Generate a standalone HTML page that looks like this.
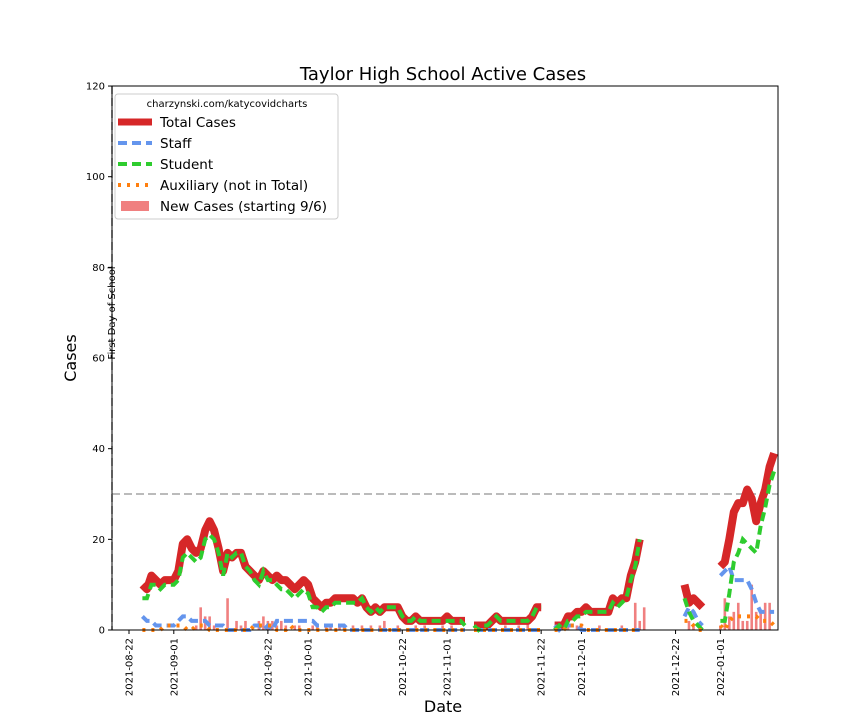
<!DOCTYPE html>
<html><head><meta charset="utf-8"><style>
body{margin:0;background:#fff;font-family:"Liberation Sans","DejaVu Sans",sans-serif}
svg text{font-family:"DejaVu Sans","Liberation Sans",sans-serif}
</style></head><body>
<svg id="chart" width="864" height="720" xmlns="http://www.w3.org/2000/svg">
<rect width="864" height="720" fill="#fff"/>
<text x="443" y="80" font-size="18" text-anchor="middle">Taylor High School Active Cases</text>
<text transform="translate(76,358) rotate(-90)" font-size="16" text-anchor="middle">Cases</text>
<text x="443" y="712" font-size="16" text-anchor="middle">Date</text>
<g id="plot"></g>
<rect x="112" y="86" width="666" height="544" fill="none" stroke="#000" stroke-width="1"/>
<g id="legend">
<rect x="115" y="94" width="223" height="125" rx="3" fill="#fff" fill-opacity="0.85" stroke="#ccc"/>
<text x="227" y="107" font-size="10" text-anchor="middle">charzynski.com/katycovidcharts</text>
<line x1="118" y1="122" x2="152" y2="122" stroke="#d62728" stroke-width="7"/>
<text x="160" y="127" font-size="13.5">Total Cases</text>
<line x1="118" y1="143" x2="152" y2="143" stroke="#6495ed" stroke-width="4" stroke-dasharray="9,5"/>
<text x="160" y="148" font-size="13.5">Staff</text>
<line x1="118" y1="164" x2="152" y2="164" stroke="#2ecc2e" stroke-width="4" stroke-dasharray="9,5"/>
<text x="160" y="169" font-size="13.5">Student</text>
<line x1="118" y1="185" x2="152" y2="185" stroke="#ff7f0e" stroke-width="4" stroke-dasharray="3,6"/>
<text x="160" y="190" font-size="13.5">Auxiliary (not in Total)</text>
<rect x="121" y="201" width="28" height="10" fill="#f08080"/>
<text x="160" y="211" font-size="13.5">New Cases (starting 9/6)</text>
</g>
</svg>
<script>
const tickValues=[0,20,40,60,80,100,120];
const dateLabels=["2021-08-22","2021-09-01","2021-09-22","2021-10-01","2021-10-22","2021-11-01","2021-11-22","2021-12-01","2021-12-22","2022-01-01"];
const dateDays=[0,10,31,40,61,71,92,101,122,132];
// days since 2021-08-22; null = gap
const days=[3,4,5,6,7,8,9,10,11,12,13,14,15,16,17,18,19,20,21,22,23,24,25,26,27,28,29,30,31,32,33,34,35,36,37,38,39,40,41,42,43,44,45,46,47,48,49,50,51,52,53,54,55,56,57,58,59,60,61,62,63,64,65,66,67,68,69,70,71,72,73,74,75,76,77,78,79,80,81,82,83,84,85,86,87,88,89,90,91,92,93,94,95,96,97,98,99,100,101,102,103,104,105,106,107,108,109,110,111,112,113,114,115,116,117,118,119,120,121,122,123,124,125,126,127,128,129,130,131,132,133,134,135,136,137,138,139,140,141,142,143,144];
const totalCases=[10,9,12,11,10,11,11,11,13,19,20,18,17,18,22,24,22,18,13,17,16,17,17,14,13,12,11,13,12,11,12,11,11,10,9,10,11,10,7,6,5,6,6,7,7,7,7,7,6,7,5,4,5,4,5,5,5,5,3,2,2,3,2,2,2,2,2,2,3,2,2,2,2,null,1,1,1,1,2,3,2,2,2,2,2,2,2,3,5,5,null,null,1,1,1,3,3,4,4,5,4,4,4,4,4,7,6,7,7,12,15,20,null,null,null,null,null,null,null,null,null,10,6,7,6,5,null,null,null,14,15,20,26,28,28,31,29,24,28,31,36,39];
const staffCases=[3,2,2,1,1,1,1,1,2,3,3,2,2,2,2,1,1,1,1,0,0,0,0,0,0,1,1,0,1,0,2,2,2,2,2,2,2,2,2,1,1,1,1,1,1,1,0,0,0,0,0,0,0,0,0,0,0,0,0,0,0,0,0,0,0,0,0,0,0,0,0,0,0,null,0,0,0,0,0,0,0,0,0,0,0,0,0,0,0,0,null,null,1,0,1,1,1,1,0,0,0,0,0,0,0,0,0,0,0,0,0,0,null,null,null,null,null,null,null,null,null,3,5,4,2,1,null,null,null,12,13,14,11,11,11,11,9,6,4,4,4,4];
const studentCases=[7,7,10,10,9,10,10,10,11,16,17,16,15,16,20,21,20,17,12,17,16,17,17,14,13,11,10,13,11,11,10,9,9,8,7,8,9,8,5,5,4,5,5,6,6,6,6,6,6,7,5,4,5,4,5,5,5,5,3,2,2,3,2,2,2,2,2,2,2,2,2,2,1,null,1,0,1,1,2,3,2,2,2,2,2,2,2,3,5,5,null,null,0,1,0,2,2,3,3,4,4,4,4,4,4,6,5,6,7,11,14,20,null,null,null,null,null,null,null,null,null,7,4,2,1,0,null,null,null,2,2,8,15,17,20,19,18,17,23,27,32,35];
const auxCases=[0,0,0,0,0,1,1,1,1,1,0,0,1,1,1,0,0,0,0,0,0,0,0,0,0,1,1,1,1,1,0,0,0,1,0,0,0,0,0,0,0,0,0,0,0,0,0,0,0,0,0,0,0,0,0,0,0,0,0,0,0,0,0,0,0,0,0,0,0,0,0,0,0,null,0,0,0,0,0,0,0,0,0,0,0,0,0,0,0,0,null,null,0,0,0,1,1,1,1,0,0,0,0,0,0,0,0,0,0,0,0,0,null,null,null,null,null,null,null,null,null,2,2,1,0,0,null,null,null,1,0,2,3,3,3,3,3,3,2,2,2,1];
const barDays=[15,16,17,18,19,22,24,25,26,29,30,31,32,33,34,35,37,38,41,42,44,45,47,48,50,52,54,56,57,60,64,66,70,72,78,80,84,87,89,96,98,100,101,105,110,113,114,115,125,126,132,133,134,135,136,137,138,139,140,141,142,143];
const barValues=[1,5,3,3,1,7,2,1,2,2,3,2,2,1,2,1,1,1,1,1,1,1,1,1,1,1,1,1,2,1,1,1,1,1,1,1,1,1,2,1,1,1,1,1,1,6,2,5,2,1,1,7,3,4,6,2,2,10,4,4,6,6];

const NS="http://www.w3.org/2000/svg";
const g=document.getElementById('plot');
const X=d=>129+4.48*d;
const Y=v=>630-4.533*v;
function mk(t,a){const e=document.createElementNS(NS,t);for(const k in a)e.setAttribute(k,a[k]);g.appendChild(e);return e;}
// grid refs
let e=mk('line',{x1:112,x2:778,y1:Y(30),y2:Y(30),stroke:'#bbb','stroke-width':2,'stroke-dasharray':'8,4'});


e=mk('line',{x1:112,x2:112,y1:86,y2:630,stroke:'#bbb','stroke-width':2,'stroke-dasharray':'8,4'});


e=mk('text',{transform:'translate(115,313) rotate(-90)','font-size':10,'text-anchor':'middle'});
e.textContent='First Day of School';


tickValues.forEach(v=>{
 const l=mk('line',{x1:108,x2:112,y1:Y(v),y2:Y(v),stroke:'#000'});
 
 
 const t=mk('text',{x:105,y:Y(v)+3.5,'font-size':10,'text-anchor':'end'});
 t.textContent=v;
 
 
});
dateLabels.forEach((s,i)=>{
 const x=X(dateDays[i]);
 const l=mk('line',{x1:x,x2:x,y1:630,y2:634,stroke:'#000'});
 
 
 const t=mk('text',{transform:`translate(${x+3.5},638) rotate(-90)`,'font-size':10,'text-anchor':'end'});
 t.textContent=s;
 
 
});
barDays.forEach((d,i)=>{
 const b=mk('rect',{x:X(d)-1.3,y:Y(barValues[i]),width:2.6,height:630-Y(barValues[i]),fill:'#f08080'});
 
 
});
function pathFor(vals){let p='',pen=false;vals.forEach((v,i)=>{if(v===null){pen=false;return;}p+=(pen?'L':'M')+X(days[i]).toFixed(1)+','+Y(v).toFixed(1);pen=true;});return p;}
e=mk('path',{d:pathFor(totalCases),fill:'none',stroke:'#d62728','stroke-width':8,'stroke-linejoin':'round'});


e=mk('path',{d:pathFor(staffCases),fill:'none',stroke:'#6495ed','stroke-width':4,'stroke-dasharray':'9,5'});


e=mk('path',{d:pathFor(studentCases),fill:'none',stroke:'#2ecc2e','stroke-width':4,'stroke-dasharray':'9,5'});


e=mk('path',{d:pathFor(auxCases),fill:'none',stroke:'#ff7f0e','stroke-width':4,'stroke-dasharray':'3,6'});


</script>
</body></html>
